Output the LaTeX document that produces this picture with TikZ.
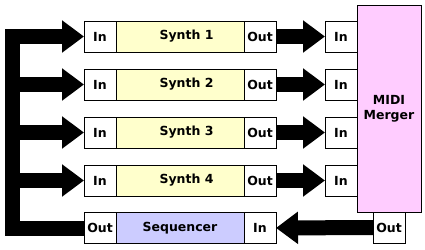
\documentclass[tikz,border=0pt]{standalone}
\usepackage{fontspec}
\setmainfont{DejaVu Sans}
\usetikzlibrary{arrows.meta}
\usetikzlibrary{positioning}

\tikzset{
  box/.style={draw,line width=1pt,minimum height=31pt,inner sep=0pt,outer sep=0pt,
    font=\bfseries\fontsize{12.5}{15}\selectfont},
  portbox/.style={box,fill=white,minimum width=32pt},
  synthbox/.style={box,fill=synthfill,minimum width=128pt},
  seqbox/.style={box,fill=seqfill,minimum width=128pt},
  mergerbox/.style={box,fill=mergefill,minimum width=64pt,minimum height=207pt,align=center},
  fat/.style={line width=15pt,-{Triangle[length=22pt,width=31pt]}},
}
\definecolor{synthfill}{RGB}{255,255,204}
\definecolor{seqfill}{RGB}{204,204,255}
\definecolor{mergefill}{RGB}{255,204,255}

\begin{document}
\begin{tikzpicture}[x=1pt,y=1pt]
        \useasboundingbox (0,0) rectangle (425,-249);
        % merger
        \node[mergerbox] (merger) at (389,-108.5) {MIDI\\Merger};
        \node[portbox,below=0pt of merger] (mout) {Out};
        % synths
        \foreach \k in {1,2,3,4} {
            \node[portbox] (in\k) at (100,{-36.5-48*(\k-1)}) {In};
            \node[synthbox,right=0pt of in\k] (syn\k) {\hspace*{13pt}Synth \k};
            \node[portbox,right=0pt of syn\k] (out\k) {Out};
            \node[portbox,anchor=east] (min\k) at (merger.west |- syn\k) {In};
            \draw[fat] (out\k) -- (min\k);
        }
        % sequencer
        \node[portbox] (sqout) at (100,-228) {Out};
        \node[seqbox,right=0pt of sqout] (seq) {Sequencer};
        \node[portbox,right=0pt of seq] (sqin) {In};
        \draw[fat] (mout) -- (sqin);
        % feedback bus
        \coordinate (bustop) at (12.5,-36.5);
        \coordinate (busbot) at (12.5,-228);
        \draw[fat] (sqout.west) -- (busbot) -- (bustop) -- (in1.west);
        \foreach \k in {2,3,4} {
            \draw[fat] (bustop |- in\k) -- (in\k.west);
        }
    \end{tikzpicture}
\end{document}
